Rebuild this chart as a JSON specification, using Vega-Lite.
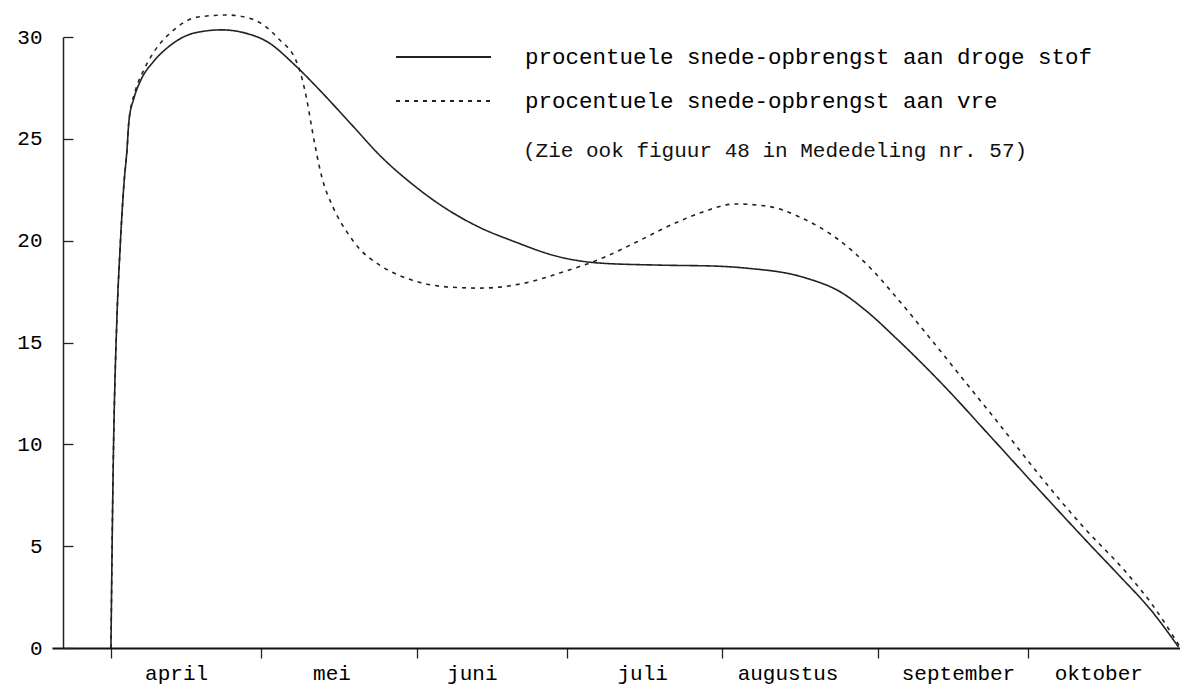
{
  "$schema": "https://vega.github.io/schema/vega-lite/v6.json",
  "width": 1128,
  "height": 611,
  "autosize": {"type": "none"},
  "padding": {"left": 52, "top": 37, "right": 0, "bottom": 42},
  "background": "white",
  "title": {
    "text": "(Zie ook figuur 48 in Mededeling nr. 57)",
    "orient": "top", "anchor": "start", "frame": "group", "offset": 0,
    "dx": 471, "dy": 160, "baseline": "middle",
    "font": "Liberation Mono", "fontSize": 21, "fontWeight": "normal", "color": "#111"
  },
  "config": {"view": {"stroke": null}, "font": "Liberation Mono"},
  "data": {"values": [
    {"dag": 0, "pct": 0, "reeks": "droge stof"},
    {"dag": 0.4, "pct": 8.1, "reeks": "droge stof"},
    {"dag": 1.2, "pct": 16.25, "reeks": "droge stof"},
    {"dag": 1.8, "pct": 19.5, "reeks": "droge stof"},
    {"dag": 2.6, "pct": 22.8, "reeks": "droge stof"},
    {"dag": 3.2, "pct": 24.45, "reeks": "droge stof"},
    {"dag": 3.6, "pct": 25.9, "reeks": "droge stof"},
    {"dag": 4.6, "pct": 27.0, "reeks": "droge stof"},
    {"dag": 6.0, "pct": 27.9, "reeks": "droge stof"},
    {"dag": 8.5, "pct": 28.8, "reeks": "droge stof"},
    {"dag": 11.4, "pct": 29.5, "reeks": "droge stof"},
    {"dag": 16.7, "pct": 30.2, "reeks": "droge stof"},
    {"dag": 22.1, "pct": 30.35, "reeks": "droge stof"},
    {"dag": 26.7, "pct": 30.2, "reeks": "droge stof"},
    {"dag": 31.3, "pct": 29.75, "reeks": "droge stof"},
    {"dag": 36.7, "pct": 28.62, "reeks": "droge stof"},
    {"dag": 42.0, "pct": 27.3, "reeks": "droge stof"},
    {"dag": 48.0, "pct": 25.7, "reeks": "droge stof"},
    {"dag": 54.0, "pct": 24.1, "reeks": "droge stof"},
    {"dag": 60.0, "pct": 22.8, "reeks": "droge stof"},
    {"dag": 67.0, "pct": 21.55, "reeks": "droge stof"},
    {"dag": 74.0, "pct": 20.6, "reeks": "droge stof"},
    {"dag": 80.0, "pct": 20.0, "reeks": "droge stof"},
    {"dag": 89.5, "pct": 19.2, "reeks": "droge stof"},
    {"dag": 97.5, "pct": 18.9, "reeks": "droge stof"},
    {"dag": 109.4, "pct": 18.8, "reeks": "droge stof"},
    {"dag": 120.8, "pct": 18.75, "reeks": "droge stof"},
    {"dag": 126.8, "pct": 18.65, "reeks": "droge stof"},
    {"dag": 138.2, "pct": 18.2, "reeks": "droge stof"},
    {"dag": 145.9, "pct": 17.43, "reeks": "droge stof"},
    {"dag": 150.7, "pct": 16.55, "reeks": "droge stof"},
    {"dag": 156.7, "pct": 15.2, "reeks": "droge stof"},
    {"dag": 165.9, "pct": 12.95, "reeks": "droge stof"},
    {"dag": 175.8, "pct": 10.3, "reeks": "droge stof"},
    {"dag": 185.8, "pct": 7.6, "reeks": "droge stof"},
    {"dag": 195.8, "pct": 4.95, "reeks": "droge stof"},
    {"dag": 201.2, "pct": 3.55, "reeks": "droge stof"},
    {"dag": 207.7, "pct": 1.8, "reeks": "droge stof"},
    {"dag": 213.0, "pct": 0.05, "reeks": "droge stof"},
    {"dag": 0, "pct": 0, "reeks": "vre"},
    {"dag": 0.4, "pct": 8.1, "reeks": "vre"},
    {"dag": 1.2, "pct": 16.25, "reeks": "vre"},
    {"dag": 1.8, "pct": 19.5, "reeks": "vre"},
    {"dag": 2.6, "pct": 22.8, "reeks": "vre"},
    {"dag": 3.2, "pct": 24.45, "reeks": "vre"},
    {"dag": 3.6, "pct": 25.9, "reeks": "vre"},
    {"dag": 4.8, "pct": 27.3, "reeks": "vre"},
    {"dag": 6.4, "pct": 28.3, "reeks": "vre"},
    {"dag": 8.4, "pct": 29.2, "reeks": "vre"},
    {"dag": 12.8, "pct": 30.4, "reeks": "vre"},
    {"dag": 17.3, "pct": 30.98, "reeks": "vre"},
    {"dag": 23.3, "pct": 31.08, "reeks": "vre"},
    {"dag": 28.7, "pct": 30.83, "reeks": "vre"},
    {"dag": 33.3, "pct": 29.95, "reeks": "vre"},
    {"dag": 37.3, "pct": 28.62, "reeks": "vre"},
    {"dag": 39.1, "pct": 26.9, "reeks": "vre"},
    {"dag": 40.1, "pct": 25.5, "reeks": "vre"},
    {"dag": 42.1, "pct": 23.1, "reeks": "vre"},
    {"dag": 44.3, "pct": 21.65, "reeks": "vre"},
    {"dag": 47.2, "pct": 20.38, "reeks": "vre"},
    {"dag": 49.6, "pct": 19.6, "reeks": "vre"},
    {"dag": 53.6, "pct": 18.8, "reeks": "vre"},
    {"dag": 59.6, "pct": 18.1, "reeks": "vre"},
    {"dag": 67.6, "pct": 17.72, "reeks": "vre"},
    {"dag": 73.6, "pct": 17.67, "reeks": "vre"},
    {"dag": 83.5, "pct": 17.97, "reeks": "vre"},
    {"dag": 89.5, "pct": 18.41, "reeks": "vre"},
    {"dag": 98.1, "pct": 19.15, "reeks": "vre"},
    {"dag": 105.0, "pct": 19.95, "reeks": "vre"},
    {"dag": 112.0, "pct": 20.8, "reeks": "vre"},
    {"dag": 118.0, "pct": 21.4, "reeks": "vre"},
    {"dag": 124.5, "pct": 21.8, "reeks": "vre"},
    {"dag": 130.8, "pct": 21.7, "reeks": "vre"},
    {"dag": 137.4, "pct": 21.16, "reeks": "vre"},
    {"dag": 144.7, "pct": 20.13, "reeks": "vre"},
    {"dag": 151.9, "pct": 18.56, "reeks": "vre"},
    {"dag": 155.9, "pct": 17.45, "reeks": "vre"},
    {"dag": 163.3, "pct": 15.25, "reeks": "vre"},
    {"dag": 170.0, "pct": 13.2, "reeks": "vre"},
    {"dag": 177.2, "pct": 11.0, "reeks": "vre"},
    {"dag": 185.2, "pct": 8.5, "reeks": "vre"},
    {"dag": 193.8, "pct": 6.0, "reeks": "vre"},
    {"dag": 202.6, "pct": 3.7, "reeks": "vre"},
    {"dag": 207.7, "pct": 2.15, "reeks": "vre"},
    {"dag": 213.3, "pct": 0.05, "reeks": "vre"}
  ]},
  "mark": {"type": "line", "interpolate": "monotone", "clip": false, "strokeWidth": 1.6, "color": "#222"},
  "encoding": {
    "x": {
      "field": "dag", "type": "quantitative",
      "scale": {"domain": [-11.76, 213.3], "nice": false, "zero": false},
      "axis": {
        "title": null, "grid": false,
        "values": [0, 13, 30, 44, 61, 72, 91, 106, 122, 135, 153, 169, 183, 197],
        "labelExpr": "datum.value==13?'april':datum.value==44?'mei':datum.value==72?'juni':datum.value==106?'juli':datum.value==135?'augustus':datum.value==169?'september':datum.value==197?'oktober':''",
        "tickOpacity": {"condition": {"test": "indexof([0,30,61,91,122,153,183], datum.value) >= 0", "value": 1}, "value": 0},
        "tickSize": 10, "tickWidth": 1.3, "tickColor": "#222",
        "domainColor": "#111", "domainWidth": 2,
        "labelFont": "Liberation Mono", "labelFontSize": 21, "labelColor": "#000",
        "labelPadding": 4, "labelAlign": "center", "labelBaseline": "top", "labelOverlap": false, "labelFlush": false
      }
    },
    "y": {
      "field": "pct", "type": "quantitative",
      "scale": {"domain": [0, 30], "nice": false},
      "axis": {
        "title": null, "grid": false, "values": [0, 5, 10, 15, 20, 25, 30],
        "offset": -11, "tickSize": -10, "tickWidth": 1.3, "tickColor": "#222",
        "domainColor": "#222", "domainWidth": 1.5,
        "labelFont": "Liberation Mono", "labelFontSize": 21, "labelColor": "#000",
        "labelPadding": 31, "labelFlush": false
      }
    },
    "strokeDash": {
      "field": "reeks", "type": "nominal",
      "scale": {"domain": ["droge stof", "vre"], "range": [[1, 0], [4, 5]]},
      "legend": {
        "orient": "none", "legendX": 343, "legendY": -1, "title": null,
        "padding": 0, "symbolType": "stroke", "symbolSize": 9025,
        "symbolStrokeWidth": 2, "symbolStrokeColor": "#222",
        "clipHeight": 42, "rowPadding": 2, "labelOffset": 33,
        "labelFont": "Liberation Mono", "labelFontSize": 22.5, "labelColor": "#000", "labelLimit": 800,
        "labelExpr": "'procentuele snede-opbrengst aan ' + datum.label"
      }
    }
  }
}
